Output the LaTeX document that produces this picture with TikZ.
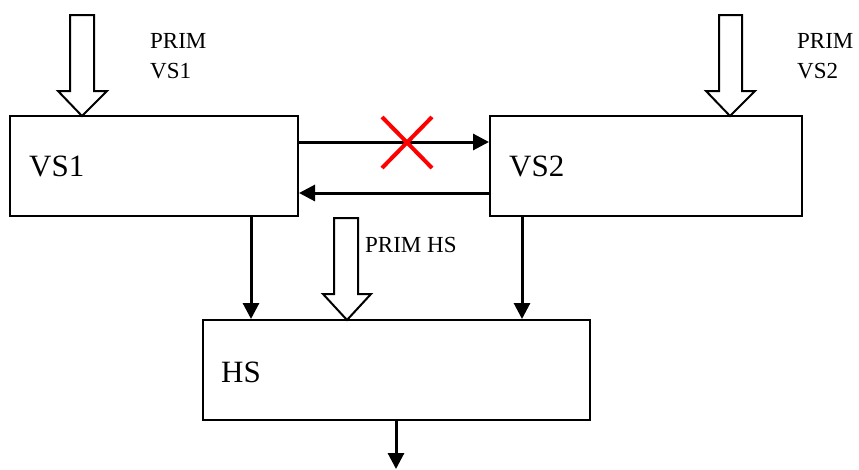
\documentclass[tikz,border=0pt]{standalone}
\usepackage{fontspec}
\setmainfont{Liberation Serif}
\usetikzlibrary{arrows.meta}
\begin{document}
\begin{tikzpicture}[x=1pt,y=-1pt,
  blk/.style={draw,line width=2pt,minimum width=#1,minimum height=100pt,inner sep=0pt},
  conn/.style={line width=3pt,-{Triangle[length=16pt,width=16pt]}},
  hollow/.style={draw,line width=2pt,fill=white,line join=miter},
  lbl/.style={font=\fontsize{23}{30}\selectfont,anchor=base west,inner sep=0pt},
  boxlbl/.style={font=\fontsize{31}{36}\selectfont,anchor=west,inner sep=0pt}]
\useasboundingbox (0,0) rectangle (859,469);
\node[blk=288pt] (vs1) at (154,166) {};
\node[blk=312pt] (vs2) at (646,166) {};
\node[blk=387pt] (hs) at (396.5,370) {};
\node[boxlbl] (t1) at (29,166) {VS1};
\node[boxlbl] (t2) at (509,166) {VS2};
\node[boxlbl] (t3) at (221,372) {HS};
% hollow arrows
\draw[hollow] (70,15) -- (94,15) -- (94,91) -- (107,91) -- (82,116) -- (58,91) -- (70,91) -- cycle;
\draw[hollow] (719,15) -- (742,15) -- (742,91) -- (755,91) -- (730,116) -- (706,91) -- (719,91) -- cycle;
\draw[hollow] (334,218) -- (358,218) -- (358,294) -- (371,294) -- (347,320) -- (323,294) -- (334,294) -- cycle;
\node[lbl] (p1a) at (150,48) {PRIM};
\node[lbl] (p1b) at (150,78) {VS1};
\node[lbl] (p2a) at (797,48) {PRIM};
\node[lbl] (p2b) at (797,78) {VS2};
\node[lbl] (p3) at (365,252) {PRIM HS};
% connectors
\draw[conn] (vs1.east |- 0,142) -- (vs2.west |- 0,142);
\draw[conn] (vs2.west |- 0,193) -- (vs1.east |- 0,193);
\draw[conn] (vs1.south -| 251,0) -- (hs.north -| 251,0);
\draw[conn] (vs2.south -| 522,0) -- (hs.north -| 522,0);
\coordinate (out) at (396,469);
\draw[conn] (hs.south -| out) -- (out);
% red cross
\draw[red,line width=4pt] (382,117) -- (432,168) (432,117) -- (382,168);
\end{tikzpicture}
\end{document}
